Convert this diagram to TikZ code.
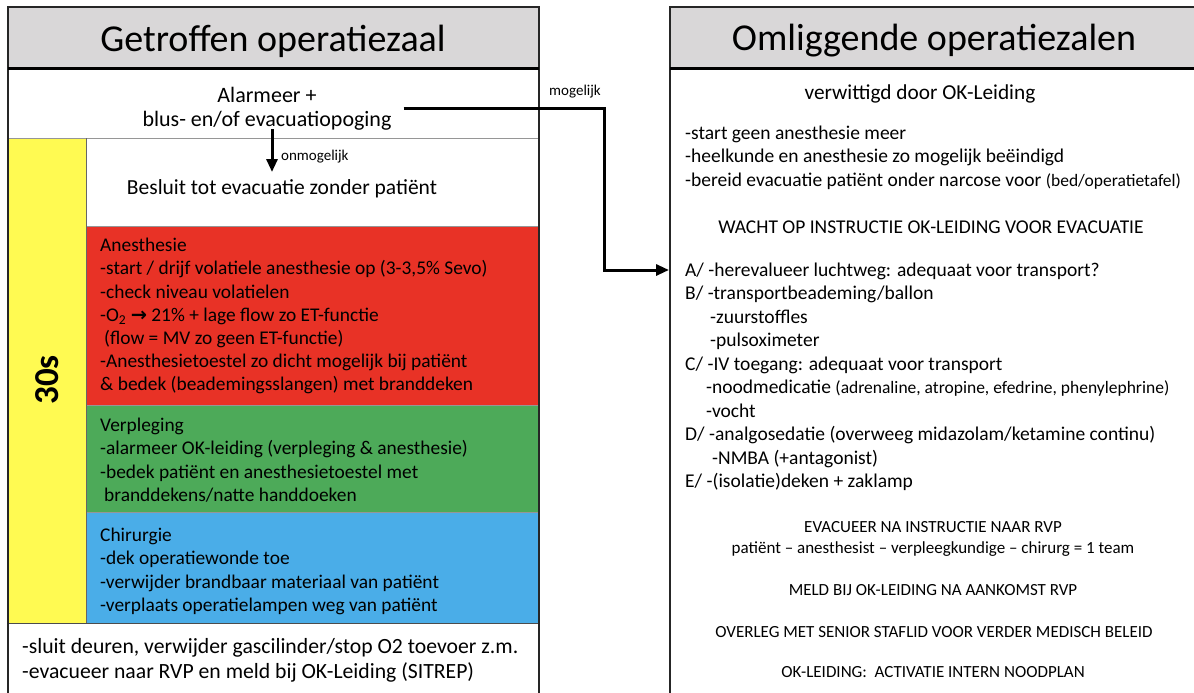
\documentclass[tikz,border=0pt]{standalone}
\usepackage{fontspec}
\setmainfont{Carlito}
\newfontfamily\dejavu{DejaVu Sans}
\usetikzlibrary{arrows.meta}
\definecolor{hdr}{RGB}{217,215,216}
\definecolor{cred}{RGB}{232,50,38}
\definecolor{cgreen}{RGB}{77,170,89}
\definecolor{cblue}{RGB}{74,173,232}
\definecolor{cyel}{RGB}{255,250,82}
\definecolor{divgray}{RGB}{150,150,150}
\begin{document}
\begin{tikzpicture}[x=1pt,y=-1pt,
  body/.style={inner sep=0pt, align=left, anchor=north west, font=\fontsize{19.4}{23.2}\selectfont},
  rbody/.style={inner sep=0pt, align=left, anchor=north west, font=\fontsize{19.5}{23.5}\selectfont},
  ctr/.style={inner sep=0pt, align=center, font=\fontsize{17}{21}\selectfont},
  hdrtxt/.style={inner sep=0pt, font=\fontsize{38}{44}\selectfont},
  small/.style={inner sep=0pt, font=\fontsize{15}{17}\selectfont},
  conn/.style={line width=3pt, -{Triangle[length=13pt,width=11pt]}},
  outer/.style={line width=2.5pt, black!85},
  divider/.style={line width=1pt, divgray}
]
\clip (0,0) rectangle (1194,693);
\fill[white] (0,0) rectangle (1194,693);

% ---------- left box fills ----------
\fill[hdr] (8,7) rectangle (539,69);
\fill[cyel] (8,138) rectangle (86,623);
\fill[cred] (86,226) rectangle (539,405);
\fill[cgreen] (86,405) rectangle (539,512);
\fill[cblue] (86,512) rectangle (539,623);
% dividers
\draw[divider] (8,138) -- (539,138);
\draw[divider] (86,226) -- (539,226);
\draw[divider] (86,405) -- (539,405);
\draw[divider] (86,512) -- (539,512);
\draw[line width=1pt, black!70] (8,623) -- (539,623);
\draw[line width=1pt, black!60] (86,138) -- (86,623);
% outer left
\draw[outer] (8,710) -- (8,7) -- (539,7) -- (539,710);
\draw[line width=3pt] (8,69) -- (539,69);

% ---------- right box ----------
\fill[hdr] (670,7) rectangle (1210,69);
\draw[outer] (670,710) -- (670,7) -- (1210,7);
\draw[line width=3pt] (670,69) -- (1210,69);

% ---------- headers ----------
\node[hdrtxt] (h1) at (273,41) {Getroffen operatiezaal};
\node[hdrtxt] (h2) at (934,41) {Omliggende operatiezalen};

% ---------- left texts ----------
\node[inner sep=0pt, inner xsep=12pt, align=center, font=\fontsize{22}{24}\selectfont] (alarm) at (267,109)
  {Alarmeer +\\blus- en/of evacuatiopoging};
\node[inner sep=0pt, font=\fontsize{21.5}{24}\selectfont] (besluit) at (282,189) {Besluit tot evacuatie zonder patiënt};
\node[small, anchor=west] (onm) at (281,157) {onmogelijk};
\node[small] (mog) at (575,92) {mogelijk};
\node[rotate=90, inner sep=0pt, font=\bfseries\fontsize{35}{40}\selectfont] (t30) at (47,380) {30s};

\node[body] (anes) at (100,238) {Anesthesie\\
-start / drijf volatiele anesthesie op (3-3,5\% Sevo)\\
-check niveau volatielen\\
-O\textsubscript{2} {\dejavu\bfseries →} 21\% + lage flow zo ET-functie\\
\hspace{4pt}(flow = MV zo geen ET-functie)\\
-Anesthesietoestel zo dicht mogelijk bij patiënt\\
\& bedek (beademingsslangen) met branddeken};

\node[body] (verpl) at (100,418) {Verpleging\\
-alarmeer OK-leiding (verpleging \& anesthesie)\\
-bedek patiënt en anesthesietoestel met\\
\hspace{4pt}branddekens/natte handdoeken};

\node[body] (chir) at (100,528) {Chirurgie\\
-dek operatiewonde toe\\
-verwijder brandbaar materiaal van patiënt\\
-verplaats operatielampen weg van patiënt};

\node[inner sep=0pt, align=left, anchor=north west, font=\fontsize{21.7}{25}\selectfont] (slot) at (22,638.5)
  {-sluit deuren, verwijder gascilinder/stop O2 toevoer z.m.\\
   -evacueer naar RVP en meld bij OK-Leiding (SITREP)};

% ---------- right texts ----------
\node[inner sep=0pt, font=\fontsize{21.3}{25}\selectfont] (verw) at (920,94) {verwittigd door OK-Leiding};
\node[rbody] (start) at (685,125.5) {-start geen anesthesie meer\\
-heelkunde en anesthesie zo mogelijk beëindigd\\
-bereid evacuatie patiënt onder narcose voor {\fontsize{17.5}{18}\selectfont(bed/operatietafel)}};
\node[inner sep=0pt, font=\fontsize{19.5}{22}\selectfont] (wacht) at (931,227) {WACHT OP INSTRUCTIE OK-LEIDING VOOR EVACUATIE};

\node[rbody] (abc) at (685,262.5) {A/ -herevalueer luchtweg: adequaat voor transport?\\
B/ -transportbeademing/ballon\\
\hspace{25pt}-zuurstoffles\\
\hspace{25pt}-pulsoximeter\\
C/ -IV toegang: adequaat voor transport\\
\hspace{21pt}-noodmedicatie {\fontsize{17.5}{18}\selectfont(adrenaline, atropine, efedrine, phenylephrine)}\\
\hspace{21pt}-vocht\\
D/ -analgosedatie (overweeg midazolam/ketamine continu)\\
\hspace{27pt}-NMBA (+antagonist)\\
E/ -(isolatie)deken + zaklamp};

\node[ctr] (evac) at (933,539) {EVACUEER NA INSTRUCTIE NAAR RVP\\
patiënt – anesthesist – verpleegkundige – chirurg = 1 team};
\node[ctr] (meld) at (933,590) {MELD BIJ OK-LEIDING NA AANKOMST RVP};
\node[ctr] (overleg) at (934,632) {OVERLEG MET SENIOR STAFLID VOOR VERDER MEDISCH BELEID};
\node[ctr] (okl) at (933,672) {OK-LEIDING:\ \ ACTIVATIE INTERN NOODPLAN};

% ---------- connectors ----------
\coordinate (turn) at (604,108);
\coordinate (aEnd) at (669,270);
\coordinate (dTop) at (272,129);
\coordinate (dTip) at (272,172);
\draw[conn] (alarm.east |- turn) -- (turn) |- (aEnd);
\draw[conn] (dTop) -- (dTip);
\end{tikzpicture}
\end{document}
